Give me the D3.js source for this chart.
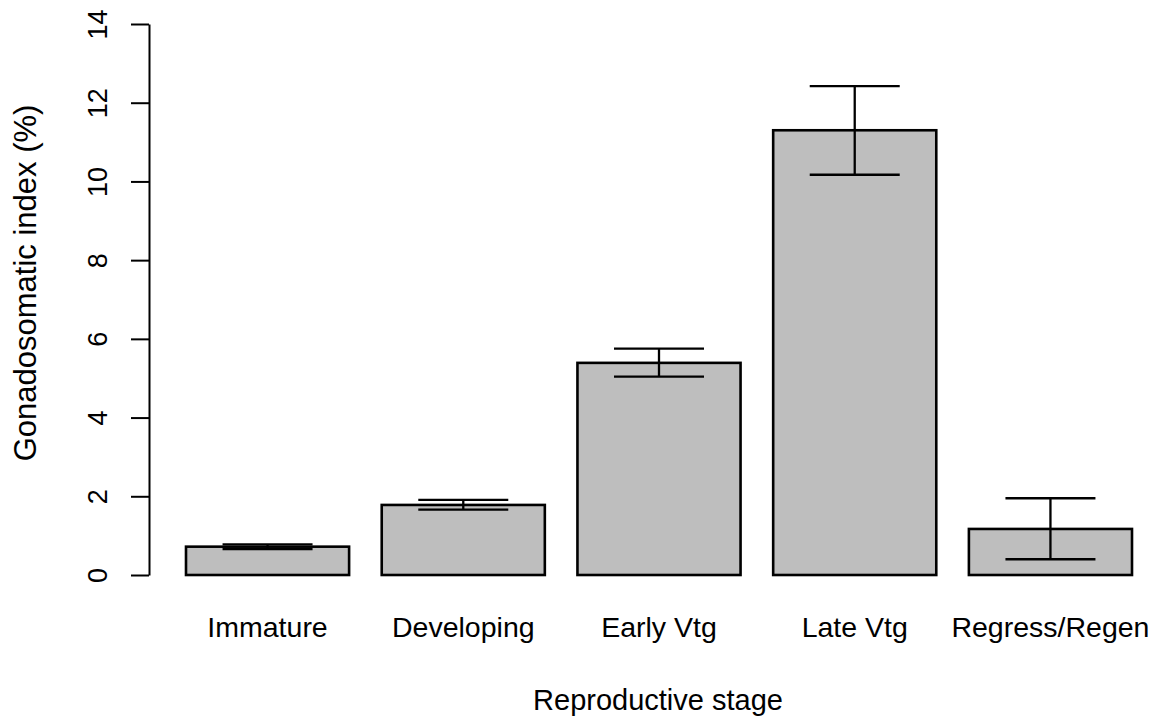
<!DOCTYPE html>
<html>
<head>
<meta charset="utf-8">
<script src="https://cdn.jsdelivr.net/npm/d3@7"></script>
<style>
  html, body { margin: 0; padding: 0; background: #fff; }
  svg { display: block; }
  text { font-family: "Liberation Sans", Arial, sans-serif; fill: #000; }
</style>
</head>
<body>
<svg id="chart" width="1162" height="719"></svg>
<script>
const categories = ["Immature", "Developing", "Early Vtg", "Late Vtg", "Regress/Regen"];
const means = [0.72, 1.78, 5.39, 11.30, 1.17];
const lower = [0.66, 1.66, 5.04, 10.17, 0.40];
const upper = [0.78, 1.91, 5.75, 12.42, 1.95];
const yTicks = [0, 2, 4, 6, 8, 10, 12, 14];
const xTitle = "Reproductive stage";
const yTitle = "Gonadosomatic index (%)";

const svg = d3.select("#chart");

const x = d3.scaleBand()
  .domain(categories)
  .range([186, 1132])
  .paddingInner(0.2 / 1.2)
  .paddingOuter(0);

const y = d3.scaleLinear().domain([0, 14]).range([575, 24]);

// Bars
svg.append("g").selectAll("rect")
  .data(categories)
  .join("rect")
  .attr("x", d => x(d))
  .attr("y", (d, i) => y(means[i]))
  .attr("width", x.bandwidth())
  .attr("height", (d, i) => y(0) - y(means[i]))
  .attr("fill", "#bebebe")
  .attr("stroke", "#000")
  .attr("stroke-width", 2.6);

// Error bars
const capHalf = 45;
const eb = svg.append("g").attr("stroke", "#000").attr("stroke-width", 2.3);
categories.forEach((c, i) => {
  const cx = x(c) + x.bandwidth() / 2;
  eb.append("line").attr("x1", cx).attr("x2", cx).attr("y1", y(lower[i])).attr("y2", y(upper[i]));
  eb.append("line").attr("x1", cx - capHalf).attr("x2", cx + capHalf).attr("y1", y(upper[i])).attr("y2", y(upper[i]));
  eb.append("line").attr("x1", cx - capHalf).attr("x2", cx + capHalf).attr("y1", y(lower[i])).attr("y2", y(lower[i]));
});

// Y axis
const yAxis = d3.axisLeft(y).tickValues(yTicks).tickSize(18).tickSizeOuter(0).tickPadding(0);
const ya = svg.append("g").attr("transform", "translate(149,0)").call(yAxis);
ya.select(".domain").attr("stroke", "#000").attr("stroke-width", 2);
ya.selectAll(".tick line").attr("stroke", "#000").attr("stroke-width", 2);
ya.selectAll(".tick text")
  .attr("font-size", 27)
  .attr("text-anchor", "middle")
  .attr("x", null).attr("dy", null)
  .attr("transform", "translate(-42,0) rotate(-90)")
  .attr("y", 0);

// X category labels
const xAxis = d3.axisBottom(x).tickSize(0).tickPadding(0);
const xa = svg.append("g").attr("transform", "translate(0,637)").call(xAxis);
xa.select(".domain").remove();
xa.selectAll(".tick text")
  .attr("font-size", 28.5)
  .attr("y", 0).attr("dy", null);

// Titles
svg.append("text")
  .attr("x", 658).attr("y", 710)
  .attr("text-anchor", "middle")
  .attr("font-size", 29)
  .text(xTitle);

svg.append("text")
  .attr("transform", "translate(36,283) rotate(-90)")
  .attr("text-anchor", "middle")
  .attr("font-size", 31)
  .text(yTitle);
</script>
</body>
</html>
